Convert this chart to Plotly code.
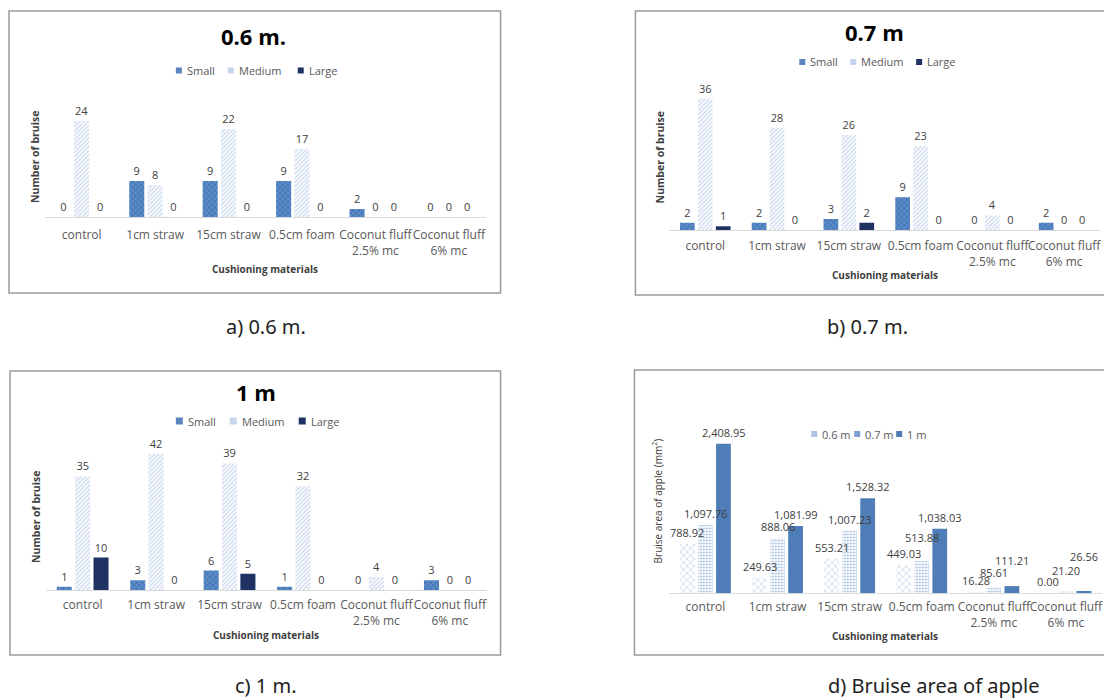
import plotly.graph_objects as go

W, H = 1104, 700

categories = ["control", "1cm straw", "15cm straw", "0.5cm foam",
              "Coconut fluff<br>2.5% mc", "Coconut fluff<br>6% mc"]
size_names = ["Small", "Medium", "Large"]
height_names = ["0.6 m", "0.7 m", "1 m"]

small_06 = [0, 9, 9, 9, 2, 0]
medium_06 = [24, 8, 22, 17, 0, 0]
large_06 = [0, 0, 0, 0, 0, 0]

small_07 = [2, 2, 3, 9, 0, 2]
medium_07 = [36, 28, 26, 23, 4, 0]
large_07 = [1, 0, 2, 0, 0, 0]

small_1 = [1, 3, 6, 1, 0, 3]
medium_1 = [35, 42, 39, 32, 4, 0]
large_1 = [10, 0, 5, 0, 0, 0]

area_06 = [788.92, 249.63, 553.21, 449.03, 16.28, 0.00]
area_07 = [1097.76, 888.06, 1007.23, 513.88, 85.61, 21.20]
area_1 = [2408.95, 1081.99, 1528.32, 1038.03, 111.21, 26.56]

FONT = "Open Sans"
TXT = "#404040"
TICK = "#595959"
BARGAP = 0.25
BARGROUPGAP = 0.18


def px_x(a, b):
    return [a / W, b / W]


def px_y(top, bottom):
    return [1 - bottom / H, 1 - top / H]


def px(xp, yp):
    return xp / W, 1 - yp / H


size_styles = [
    dict(color="#4A7CBC", pattern=dict(shape="x", fgcolor="#9DBBE2", size=4, solidity=0.3, fillmode="overlay")),
    dict(color="rgba(255,255,255,0)", pattern=dict(shape="/", fgcolor="#9FB8DF", size=3, solidity=0.5, fillmode="overlay")),
    dict(color="#1F3263"),
]
height_styles = [
    dict(color="rgba(255,255,255,0)", pattern=dict(shape="x", fgcolor="#8BA8D8", size=5, solidity=0.28, fillmode="overlay")),
    dict(color="rgba(255,255,255,0)", pattern=dict(shape="+", fgcolor="#5F89C7", size=3, solidity=0.4, fillmode="overlay")),
    dict(color="#4F7DB8"),
]
size_key_colors = ["#5B85C0", "#C5D5EC", "#1F3263"]
height_key_colors = ["#AFC4E4", "#7E9FD3", "#4F7DB8"]

fig = go.Figure()

count_panels = [
    ("x", "y", [small_06, medium_06, large_06]),
    ("x2", "y2", [small_07, medium_07, large_07]),
    ("x3", "y3", [small_1, medium_1, large_1]),
]
for xa, ya, series in count_panels:
    for vals, name, st in zip(series, size_names, size_styles):
        fig.add_trace(go.Bar(
            x=categories, y=vals, name=name, xaxis=xa, yaxis=ya, showlegend=False,
            marker=dict(line=dict(width=0), **st),
            texttemplate="%{y}", textposition="outside", cliponaxis=False,
            constraintext="none",
            textfont=dict(family=FONT, size=11, color=TXT),
            hoverinfo="skip",
        ))

area_series = [area_06, area_07, area_1]
for vals, name, st in zip(area_series, height_names, height_styles):
    fig.add_trace(go.Bar(
        x=categories, y=vals, name=name, xaxis="x4", yaxis="y4", showlegend=False,
        marker=dict(line=dict(width=0), **st), hoverinfo="skip",
    ))

xdoms = [px_x(45, 486), px_x(670, 1101), px_x(46, 487), px_x(670, 1103)]
ydoms = [px_y(97, 217), px_y(84, 230), px_y(444, 590), px_y(407, 593)]
yranges = [[0, 30], [0, 40], [0, 45], [0, 3000]]
tick_standoff = [7, 5, 4, 3]

layout = dict(
    width=W, height=H, autosize=False, margin=dict(l=0, r=0, t=0, b=0),
    paper_bgcolor="white", plot_bgcolor="white",
    barmode="group", bargap=BARGAP, bargroupgap=BARGROUPGAP,
    font=dict(family=FONT, color=TXT),
    showlegend=False,
)
for i in range(4):
    sfx = "" if i == 0 else str(i + 1)
    layout["xaxis" + sfx] = dict(
        domain=xdoms[i], anchor="y" + sfx, showline=True, linecolor="#D9D9D9",
        linewidth=1, ticks="", showgrid=False, zeroline=False, tickangle=0,
        ticklabelstandoff=tick_standoff[i],
        tickfont=dict(family=FONT, size=12, color=TICK), fixedrange=True,
    )
    layout["yaxis" + sfx] = dict(
        domain=ydoms[i], anchor="x" + sfx, range=yranges[i], visible=False,
        showgrid=False, zeroline=False, fixedrange=True,
    )
fig.update_layout(**layout)

# data labels for the bruise-area panel, drawn above all bars (as in the original),
# a few nudged upward as in the original chart
slot_px = (xdoms[3][1] - xdoms[3][0]) * W / len(categories) * (1 - BARGAP) / 3
label_lift_d = {(1, 3): 12, (1, 4): 4, (2, 4): 14, (1, 5): 10, (2, 5): 23}
for si, vals in enumerate(area_series):
    for ci, (cat, v) in enumerate(zip(categories, vals)):
        fig.add_annotation(
            x=cat, y=v, xref="x4", yref="y4", text=f"{v:,.2f}", showarrow=False,
            xanchor="center", yanchor="bottom", xshift=(si - 1) * slot_px,
            yshift=3 + label_lift_d.get((si, ci), 0), borderpad=0,
            font=dict(family=FONT, size=11, color=TXT),
        )

# panel borders
for x0, y0, x1, y1 in [(9, 11, 501, 293), (636, 11, 1112, 295), (10, 371, 501, 655), (635, 370, 1112, 655)]:
    a0, b0 = px(x0, y0)
    a1, b1 = px(x1, y1)
    fig.add_shape(type="rect", xref="paper", yref="paper", x0=a0, y0=b1, x1=a1, y1=b0,
                  line=dict(color="#9A9A9A", width=1.5), fillcolor="rgba(0,0,0,0)", layer="below")


def note(text, xp, yp, size, color=TXT, bold=False, angle=0, family=FONT, xanchor="center"):
    x, y = px(xp, yp)
    fig.add_annotation(
        text=("<b>%s</b>" % text) if bold else text, x=x, y=y, xref="paper", yref="paper",
        xanchor=xanchor, yanchor="middle", showarrow=False, textangle=angle,
        font=dict(family=family, size=size, color=color),
    )


# legends (small square keys next to the labels, Excel style)
legend_layouts = [
    (size_names, size_key_colors, [176, 228, 298], 70.5, 6),
    (size_names, size_key_colors, [800, 851, 917], 62, 6),
    (size_names, size_key_colors, [176, 230, 299], 421, 7),
    (height_names, height_key_colors, [812, 855, 897], 434, 6),
]
for names, colors, xs, ly, sq in legend_layouts:
    for name, col, lx in zip(names, colors, xs):
        a0, b0 = px(lx, ly - sq / 2)
        a1, b1 = px(lx + sq, ly + sq / 2)
        fig.add_shape(type="rect", xref="paper", yref="paper", x0=a0, y0=b1, x1=a1, y1=b0,
                      line=dict(width=0), fillcolor=col)
        note(name, lx + sq + 3, ly, 11, TICK, xanchor="left")

# panel titles
note("0.6 m.", 254, 36, 22, "#000000", bold=True)
note("0.7 m", 875, 32, 22, "#000000", bold=True)
note("1 m", 256, 392, 22, "#000000", bold=True)

# y-axis titles
note("Number of bruise", 35, 157, 10.5, TXT, bold=True, angle=-90)
note("Number of bruise", 661, 157, 10.5, TXT, bold=True, angle=-90)
note("Number of bruise", 36, 517, 10.5, TXT, bold=True, angle=-90)
note("Bruise area of apple (mm<sup>2</sup>)", 658, 501, 10, TXT, angle=-90)

# x-axis titles
note("Cushioning materials", 265, 269, 10, TXT, bold=True)
note("Cushioning materials", 886, 275, 10, TXT, bold=True)
note("Cushioning materials", 266, 635, 10, TXT, bold=True)
note("Cushioning materials", 886, 636, 10, TXT, bold=True)

# captions
note("a) 0.6 m.", 266, 327, 20, "#222222", family="Noto Sans")
note("b) 0.7 m.", 868, 327, 20, "#222222", family="Noto Sans")
note("c) 1 m.", 266, 685.5, 20, "#222222", family="Noto Sans")
note("d) Bruise area of apple", 935, 685.5, 20, "#222222", family="Noto Sans")

fig.write_html(
    "out.html",
    config={"displayModeBar": False},
    post_script=(
        "document.body.style.margin='0';"
        "document.documentElement.style.overflow='hidden';"
        "Plotly.relayout('{plot_id}', {width: 1104, height: 700, autosize: false});"
    ),
)
